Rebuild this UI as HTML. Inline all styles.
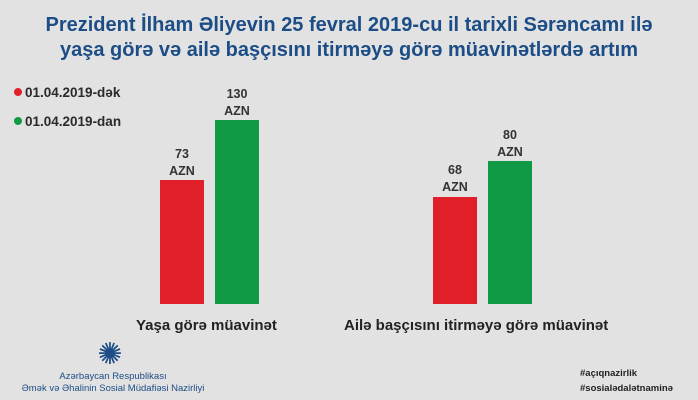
<!DOCTYPE html>
<html style="margin:0;width:698px;height:400px;overflow:hidden;background:#e2e2e2"><head><meta charset="utf-8"><style>
body{margin:0;width:698px;height:400px;background:#e2e2e2;position:relative;overflow:hidden;font-family:"Liberation Sans","DejaVu Sans",sans-serif}
.t{position:absolute;left:0;width:698px;text-align:center;color:#1c4d86;font-weight:bold;font-size:20px;line-height:24px}
.b{position:absolute}
.lab{position:absolute;text-align:center;font-size:12.5px;font-weight:bold;color:#333;line-height:17px;width:60px}
.leg{position:absolute;font-size:13.5px;font-weight:bold;color:#2a2a2a}
.leg i{display:inline-block;width:8px;height:8px;border-radius:50%;margin-right:3px;vertical-align:1px}
.cat{position:absolute;font-size:15px;color:#222;font-weight:bold;top:317px}
</style></head><body>
<div class="t" style="top:13px">Prezident İlham Əliyevin 25 fevral 2019-cu il tarixli Sərəncamı ilə</div>
<div class="t" style="top:38px">yaşa görə və ailə başçısını itirməyə görə müavinətlərdə artım</div>
<div class="leg" style="left:14px;top:85px"><i style="background:#e0202a"></i>01.04.2019-dək</div>
<div class="leg" style="left:14px;top:114px"><i style="background:#119a45"></i>01.04.2019-dan</div>
<div class="b" style="left:160px;top:180px;width:44px;height:124px;background:#e01f28"></div>
<div class="b" style="left:215px;top:120px;width:44px;height:184px;background:#119a45"></div>
<div class="b" style="left:433px;top:197px;width:44px;height:107px;background:#e01f28"></div>
<div class="b" style="left:488px;top:161px;width:44px;height:143px;background:#119a45"></div>
<div class="lab" style="left:152px;top:146px">73<br>AZN</div>
<div class="lab" style="left:207px;top:86px">130<br>AZN</div>
<div class="lab" style="left:425px;top:162px">68<br>AZN</div>
<div class="lab" style="left:480px;top:127px">80<br>AZN</div>
<div class="cat" style="left:136px">Yaşa görə müavinət</div>
<div class="cat" style="left:344px">Ailə başçısını itirməyə görə müavinət</div>
<div style="position:absolute;left:95px;top:340px;width:30px;height:30px;color:#1c4d86;font-size:30px;line-height:30px;text-align:center">✺</div>
<div style="position:absolute;left:0;width:226px;top:371px;text-align:center;font-size:9.5px;color:#1c4d86;line-height:12px">Azərbaycan Respublikası<br>Əmək və Əhalinin Sosial Müdafiəsi Nazirliyi</div>
<div style="position:absolute;left:580px;top:366px;font-size:9.5px;color:#222;font-weight:bold;line-height:15px">#açıqnazirlik<br>#sosialədalətnaminə</div>
</body></html>
